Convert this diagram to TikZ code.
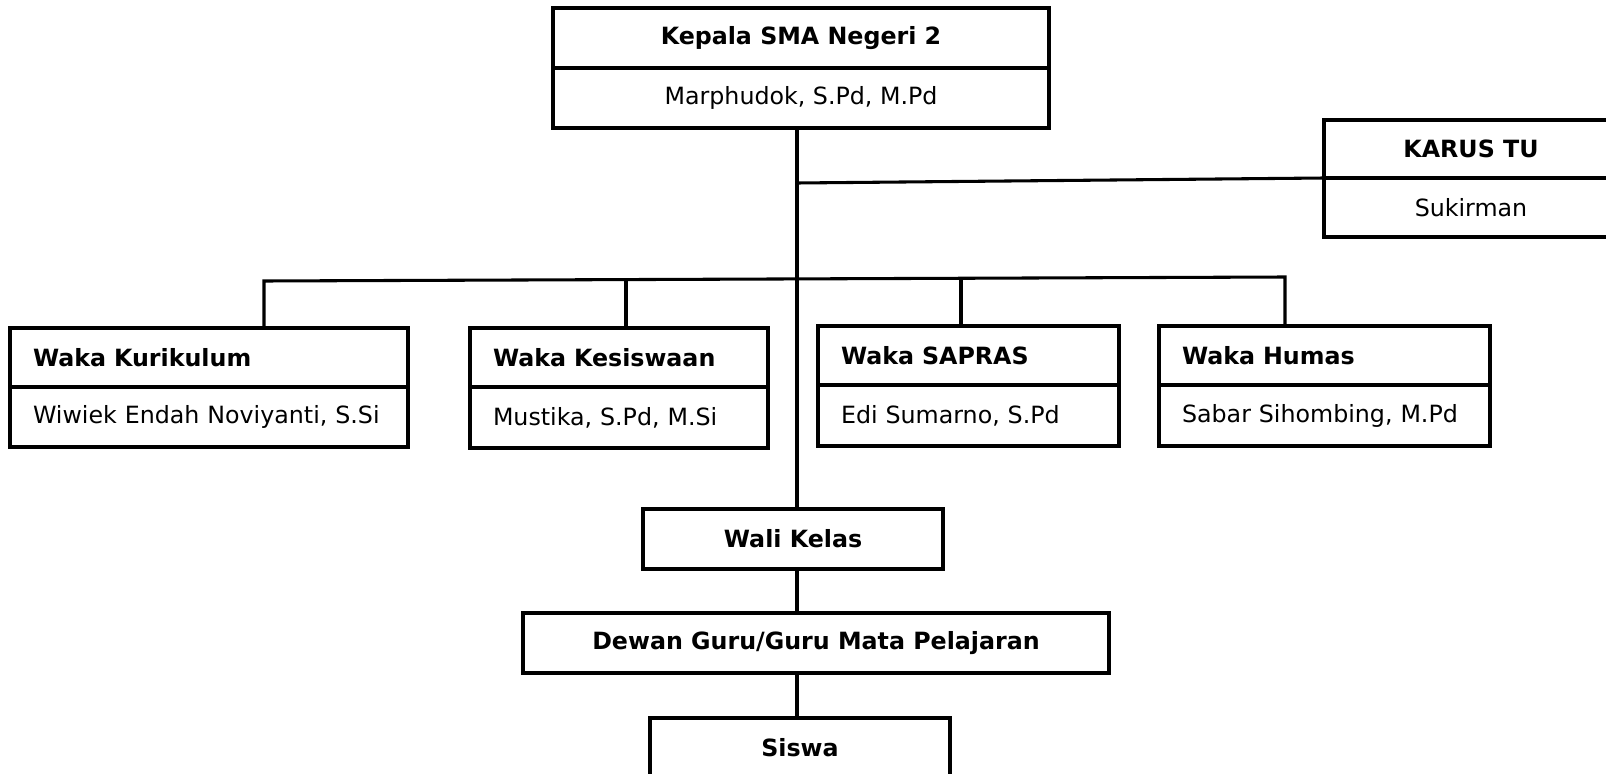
\documentclass[tikz,border=0pt]{standalone}
\usepackage{fontspec}
\setmainfont{DejaVu Sans}
\begin{document}
\begin{tikzpicture}[x=0.75pt,y=-0.75pt]
\tikzset{
  box/.style={draw, line width=2.3pt, inner sep=0pt, outer sep=0pt, anchor=north west,
    font=\fontsize{17.8}{21}\selectfont},
  ttl/.style={box, font=\fontsize{17.8}{21}\selectfont\bfseries},
  lbox/.style={align=left, inner xsep=17.25pt},
  conn/.style={line width=2.3pt},
}
\useasboundingbox[fill=white] (0,0) rectangle (1606,774);
% Kepala
\node[ttl, minimum width=496*0.75pt, minimum height=60*0.75pt] (kep) at (553,8) {Kepala SMA Negeri 2};
\node[box, minimum width=496*0.75pt, minimum height=60*0.75pt] (kepn) at (kep.south west) {Marphudok, S.Pd, M.Pd};
% Karus TU
\node[ttl, minimum width=294*0.75pt, minimum height=58*0.75pt] (kar) at (1324,120) {KARUS TU};
\node[box, minimum width=294*0.75pt, minimum height=59*0.75pt] (karn) at (kar.south west) {Sukirman};
% Waka Kurikulum
\node[ttl, lbox, text width=352*0.75pt, minimum height=59*0.75pt] (kur) at (10,328) {Waka Kurikulum};
\node[box, lbox, text width=352*0.75pt, minimum height=60*0.75pt] (kurn) at (kur.south west) {Wiwiek Endah Noviyanti, S.Si};
% Waka Kesiswaan
\node[ttl, lbox, text width=252*0.75pt, minimum height=59*0.75pt] (kes) at (470,328) {Waka Kesiswaan};
\node[box, lbox, text width=252*0.75pt, minimum height=61*0.75pt] (kesn) at (kes.south west) {Mustika, S.Pd, M.Si};
% Waka SAPRAS
\node[ttl, lbox, text width=255*0.75pt, minimum height=59*0.75pt] (sap) at (818,326) {Waka SAPRAS};
\node[box, lbox, text width=255*0.75pt, minimum height=61*0.75pt] (sapn) at (sap.south west) {Edi Sumarno, S.Pd};
% Waka Humas
\node[ttl, lbox, text width=285*0.75pt, minimum height=59*0.75pt] (hum) at (1159,326) {Waka Humas};
\node[box, lbox, text width=285*0.75pt, minimum height=61*0.75pt] (humn) at (hum.south west) {Sabar Sihombing, M.Pd};
% lower chain
\node[ttl, minimum width=300*0.75pt, minimum height=60*0.75pt] (wali) at (643,509) {Wali Kelas};
\node[ttl, minimum width=586*0.75pt, minimum height=60*0.75pt] (dewan) at (523,613) {Dewan Guru/Guru Mata Pelajaran};
\node[ttl, minimum width=300*0.75pt, minimum height=60*0.75pt] (siswa) at (650,718) {Siswa};
% connector coordinates
\coordinate (tx) at (797,0);
\coordinate (tk) at (797,183);
\coordinate (b1) at (264,281);
\coordinate (b2) at (626,279.6);
\coordinate (b3) at (961,278.3);
\coordinate (b4) at (1285,277);
% connectors
\draw[conn] (kepn.south -| tx) -- (wali.north -| tx);
\draw[conn] (tk) -- (kar.south west);
\draw[conn] (kur.north -| b1) -- (b1) -- (b4) -- (hum.north -| b4);
\draw[conn] (b2) -- (kes.north -| b2);
\draw[conn] (b3) -- (sap.north -| b3);
\draw[conn] (wali.south -| tx) -- (dewan.north -| tx);
\draw[conn] (dewan.south -| tx) -- (siswa.north -| tx);
\end{tikzpicture}
\end{document}
